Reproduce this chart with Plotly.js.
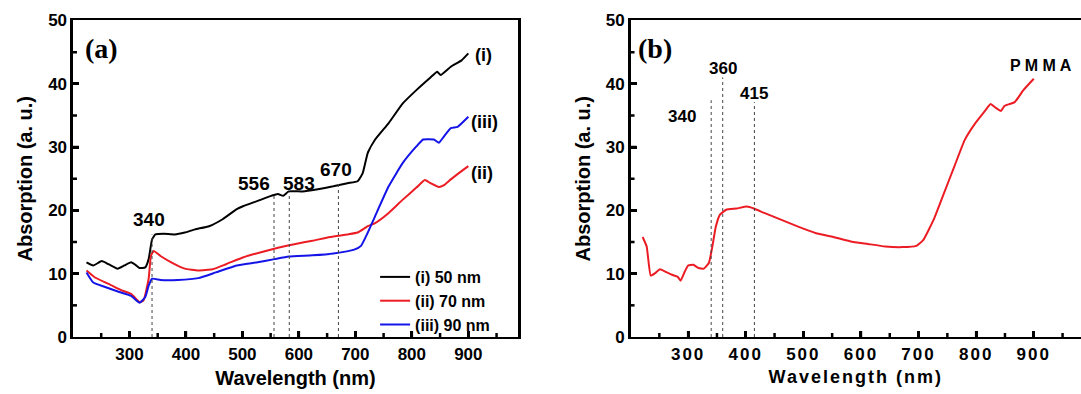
<!DOCTYPE html>
<html>
<head>
<meta charset="utf-8">
<script src="https://cdn.plot.ly/plotly-3.0.1.min.js"></script>
<style>
  html, body { margin: 0; padding: 0; background: #ffffff; }
  #chart { width: 1081px; height: 394px; }
  .x2tick text { letter-spacing: 2px; }
  text.x2title { letter-spacing: 2px; }
</style>
</head>
<body>
<div id="chart"></div>
<script>
// ---- Panel (a): absorption spectra of the three films ----
const wavelength50 = [224,236,251,263,279,291,303,312,318,328,334,340,346,361,380,398,416,441,465,490,502,527,551,563,572,582,606,631,661,686,704,713,722,735,759,784,808,833,845,851,869,888,900];
const absorption50 = [11.8,11.3,12.0,11.5,10.8,11.3,11.8,11.3,10.9,11.0,12.3,15.4,16.2,16.3,16.2,16.5,17.0,17.5,18.6,20.2,20.7,21.5,22.3,22.6,22.3,23.0,23.0,23.3,23.8,24.3,24.6,25.9,29.1,31.2,33.8,36.9,39.0,41.0,41.9,41.4,42.7,43.7,44.8];

const wavelength70 = [224,239,263,288,303,318,325,334,338,343,355,374,398,422,447,471,502,533,563,594,624,655,686,704,722,735,759,784,808,823,833,848,857,869,888,900];
const absorption70 = [10.5,9.4,8.4,7.3,6.8,5.5,5.8,9.2,12.8,13.6,12.8,11.8,10.8,10.5,10.7,11.5,12.6,13.4,14.1,14.7,15.2,15.8,16.2,16.5,17.5,18.0,19.6,21.7,23.6,24.8,24.3,23.7,24.0,24.9,26.2,27.0];

const wavelength90 = [224,236,257,282,303,318,328,334,340,355,386,422,453,490,527,557,582,624,661,698,710,722,735,759,784,808,820,839,848,857,869,881,900];
const absorption90 = [10.2,8.6,7.9,7.1,6.5,5.4,6.3,8.1,9.2,9.0,9.0,9.3,10.2,11.3,11.8,12.3,12.7,12.9,13.2,13.8,14.4,16.5,19.1,23.8,27.5,30.1,31.2,31.2,30.7,31.7,33.0,33.2,34.8];

const seriesNames = ['(i) 50 nm', '(ii) 70 nm', '(iii) 90 nm'];
const curveTags = ['(i)', '(ii)', '(iii)'];
const curveTagX = [927, 925, 929];
const curveTagY = [44.5, 25.9, 34.0];

const peaksA = [340, 556, 583, 670];
const peakTopsA = [16.2, 22.6, 22.8, 24.2];
const peakLabelXA = [334, 520, 600, 666];
const peakLabelYA = [18.6, 24.3, 24.3, 26.5];

// ---- Panel (b): PMMA ----
const wavelengthPMMA = [221,228,235,243,251,261,273,282,287,294,300,309,318,327,336,342,348,355,366,384,402,414,432,462,492,522,552,582,612,642,672,696,708,726,744,762,780,798,816,825,834,843,849,858,867,882,900];
const absorptionPMMA = [15.8,14.3,9.7,10.1,10.7,10.3,9.8,9.5,8.9,10.3,11.3,11.4,10.9,10.8,11.7,14.3,17.4,19.3,20.1,20.3,20.6,20.3,19.6,18.5,17.4,16.4,15.8,15.1,14.7,14.3,14.2,14.4,15.3,18.5,22.7,26.9,31.1,33.7,35.8,36.8,36.2,35.7,36.5,36.8,37.1,39.0,40.8];

const peaksB = [340, 360, 415];
const peakTopsB = [37.4, 41.0, 37.1];
const peakLabelXB = [290, 360, 415];
const peakLabelYB = [34.8, 42.4, 38.4];

const xTickVals = [300, 400, 500, 600, 700, 800, 900];
const xMinorVals = [250, 350, 450, 550, 650, 750, 850, 950];
const yTickVals = [0, 10, 20, 30, 40, 50];
const yMinorVals = [5, 15, 25, 35, 45];

const RED = '#ec1c24', BLUE = '#1414e8', BLACK = '#000000';
const FONT = 'Liberation Sans, Arial, sans-serif';
const SERIF = 'Liberation Serif, Times New Roman, serif';

const traces = [
  {x: wavelength50, y: absorption50, name: seriesNames[0], type: 'scatter', mode: 'lines',
   line: {color: BLACK, width: 2, shape: 'spline', smoothing: 0.4}, xaxis: 'x', yaxis: 'y'},
  {x: wavelength70, y: absorption70, name: seriesNames[1], type: 'scatter', mode: 'lines',
   line: {color: RED, width: 2, shape: 'spline', smoothing: 0.4}, xaxis: 'x', yaxis: 'y'},
  {x: wavelength90, y: absorption90, name: seriesNames[2], type: 'scatter', mode: 'lines',
   line: {color: BLUE, width: 2, shape: 'spline', smoothing: 0.4}, xaxis: 'x', yaxis: 'y'},
  {x: wavelengthPMMA, y: absorptionPMMA, name: 'PMMA', type: 'scatter', mode: 'lines', showlegend: false,
   line: {color: RED, width: 2, shape: 'spline', smoothing: 0.4}, xaxis: 'x2', yaxis: 'y2'}
];

const tickFont = {family: FONT, size: 17, color: '#000', weight: 'bold'};
const titleFont = {family: FONT, size: 20, color: '#000', weight: 'bold'};

function xAxis(domain, range, anchor, titleSize) {
  return {
    domain: domain, range: range, anchor: anchor,
    showline: true, linewidth: 2.5, linecolor: '#000', mirror: true, showgrid: false, zeroline: false,
    tickmode: 'array', tickvals: xTickVals,
    ticks: 'inside', ticklen: 6, tickwidth: 3, tickcolor: '#000',
    tickfont: tickFont,
    title: {text: 'Wavelength (nm)', font: Object.assign({}, titleFont, {size: titleSize}), standoff: 8}
  };
}
function yAxis(anchor, mirror) {
  return {
    domain: [0.1447, 0.948], range: [0, 50], anchor: anchor,
    showline: true, linewidth: 2.5, linecolor: '#000', mirror: mirror, showgrid: false, zeroline: false,
    tickmode: 'array', tickvals: yTickVals,
    ticks: 'inside', ticklen: 6, tickwidth: 3, tickcolor: '#000',
    tickfont: tickFont,
    title: {text: 'Absorption (a. u.)', font: titleFont, standoff: 10}
  };
}

const shapes = [];
// dotted peak markers
peaksA.forEach((p, i) => shapes.push({type: 'line', xref: 'x', yref: 'y', x0: p, x1: p, y0: 0, y1: peakTopsA[i],
  line: {color: '#444', width: 1, dash: 'dot'}}));
peaksB.forEach((p, i) => shapes.push({type: 'line', xref: 'x2', yref: 'y2', x0: p, x1: p, y0: 0, y1: peakTopsB[i],
  line: {color: '#444', width: 1, dash: 'dot'}}));
// inside tick marks placed through the axes' own scales
const PLOT_H = 316, PLOT_WA = 445, PLOT_WB = 451;
function addTicks(xr, yr, plotW, vals, len, isX) {
  vals.forEach(v => {
    if (isX) shapes.push({type: 'line', xref: xr, yref: yr + ' domain', x0: v, x1: v, y0: 0, y1: len / PLOT_H,
      line: {color: '#000', width: 2.5}});
    else shapes.push({type: 'line', xref: xr + ' domain', yref: yr, x0: 0, x1: len / plotW, y0: v, y1: v,
      line: {color: '#000', width: 2.5}});
  });
}
addTicks('x', 'y', PLOT_WA, xTickVals, 6, true);
addTicks('x', 'y', PLOT_WA, xMinorVals.filter(v => v < 988), 4, true);
addTicks('x', 'y', PLOT_WA, yTickVals.slice(1, -1), 6, false);
addTicks('x', 'y', PLOT_WA, yMinorVals, 4, false);
addTicks('x2', 'y2', PLOT_WB, xTickVals, 6, true);
addTicks('x2', 'y2', PLOT_WB, xMinorVals, 4, true);
addTicks('x2', 'y2', PLOT_WB, yTickVals.slice(1, -1), 6, false);
addTicks('x2', 'y2', PLOT_WB, yMinorVals, 4, false);

const annFont = {family: FONT, size: 19, color: '#000', weight: 'bold'};
const annotations = [];
annotations.push({xref: 'x', yref: 'y', x: 251, y: 45.5, text: '(a)', showarrow: false,
  font: {family: SERIF, size: 28, color: '#000', weight: 'bold'}});
peaksA.forEach((p, i) => annotations.push({xref: 'x', yref: 'y', x: peakLabelXA[i], y: peakLabelYA[i],
  text: String(p), showarrow: false, font: annFont}));
curveTags.forEach((t, i) => annotations.push({xref: 'x', yref: 'y', x: curveTagX[i], y: curveTagY[i],
  text: t, showarrow: false, font: Object.assign({}, annFont, {size: 18})}));
annotations.push({xref: 'x2', yref: 'y2', x: 243, y: 45.5, text: '(b)', showarrow: false,
  font: {family: SERIF, size: 28, color: '#000', weight: 'bold'}});
peaksB.forEach((p, i) => annotations.push({xref: 'x2', yref: 'y2', x: peakLabelXB[i], y: peakLabelYB[i],
  text: String(p), showarrow: false, font: Object.assign({}, annFont, {size: 17})}));
annotations.push({xref: 'x2', yref: 'y2', x: 912, y: 42.9, text: 'P M M A', showarrow: false,
  font: Object.assign({}, annFont, {size: 16})});

const layout = {
  width: 1081, height: 394,
  margin: {l: 0, r: 0, t: 0, b: 0, pad: 0},
  paper_bgcolor: '#ffffff', plot_bgcolor: '#ffffff',
  showlegend: true,
  legend: {x: 0.347, y: 1 - 260/394, xanchor: 'left', yanchor: 'top',
    bgcolor: 'rgba(0,0,0,0)', borderwidth: 0,
    font: {family: FONT, size: 16, color: '#000', weight: 'bold'},
    tracegroupgap: 0},
  xaxis: xAxis([0.0675, 0.4792], [200, 988], 'y', 20),
  yaxis: yAxis('x', true),
  xaxis2: xAxis([0.5833, 1.0], [200, 982], 'y2', 18),
  yaxis2: yAxis('x2', false),
  shapes: shapes, annotations: annotations
};

Plotly.newPlot('chart', traces, layout, {displayModeBar: false, staticPlot: true});
</script>
</body>
</html>
